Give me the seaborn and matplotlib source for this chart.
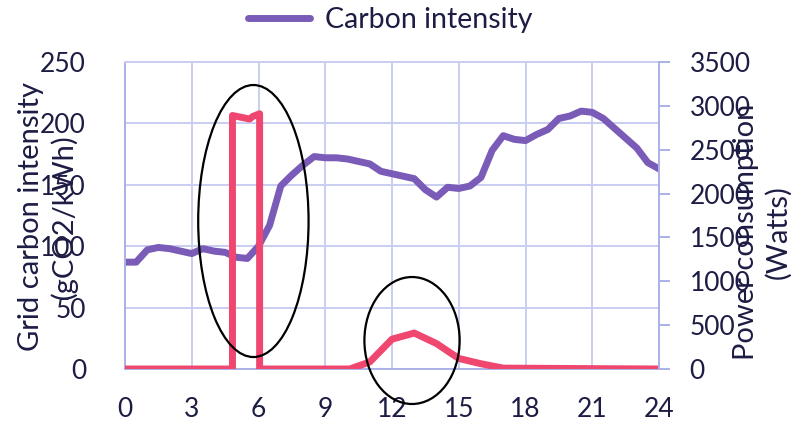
import numpy as np
import pandas as pd
import matplotlib
matplotlib.use("Agg")
import matplotlib.pyplot as plt
import seaborn as sns
from matplotlib.patches import Ellipse
from matplotlib.lines import Line2D

# ---- data ----
carbon_hours = [0, 0.5, 1, 1.5, 2, 2.5, 3, 3.5, 4, 4.5, 5, 5.5, 6, 6.5, 7, 7.5, 8, 8.5,
                9, 9.5, 10, 10.5, 11, 11.5, 12, 12.5, 13, 13.5, 14, 14.5, 15, 15.5,
                16, 16.5, 17, 17.5, 18, 18.5, 19, 19.5, 20, 20.5, 21, 21.5, 22, 22.5,
                23, 23.5, 24]
carbon_values = [87, 87, 97, 99, 98, 96, 94, 98, 96, 95, 91, 90, 100, 117, 149, 158, 166, 173,
                 172, 172, 171, 169, 167, 161, 159, 157, 155, 146, 140, 148, 147, 149,
                 156, 178, 190, 187, 186, 191, 195, 204, 206, 210, 209, 204, 196, 188,
                 180, 168, 163]

power_hours = [0, 4.83, 4.83, 5.6, 5.75, 6.05, 6.05, 10.1, 11, 12, 13, 14, 15, 16, 17, 24]
power_watts = [0, 0, 2890, 2850, 2880, 2910, 0, 0, 80, 340, 410, 290, 120, 60, 10, 0]

x_ticks = [0, 3, 6, 9, 12, 15, 18, 21, 24]
left_ticks = [0, 50, 100, 150, 200, 250]
right_ticks = [0, 500, 1000, 1500, 2000, 2500, 3000, 3500]

carbon_df = pd.DataFrame({"hour": carbon_hours, "carbon": carbon_values})
power_df = pd.DataFrame({"hour": power_hours, "watts": power_watts})

# ---- style ----
sns.set_style("white")
plt.rcParams["font.family"] = ["Lato", "DejaVu Sans"]

PURPLE = "#7a5cb8"
RED = "#ef476f"
GRID = "#c9cdf0"
SPINE = "#aab1e6"
TXT = "#1c1c44"
FS_TICK = 19
FS_LAB = 21
FS_LEG = 20.5

fig = plt.figure(figsize=(7.96, 4.23), dpi=100)
ax = fig.add_axes([125 / 796, 1 - 369 / 423, (659 - 125) / 796, (369 - 62) / 423])
ax2 = ax.twinx()

sns.lineplot(data=carbon_df, x="hour", y="carbon", ax=ax, color=PURPLE, linewidth=5,
             estimator=None, sort=False, legend=False)
sns.lineplot(data=power_df, x="hour", y="watts", ax=ax2, color=RED, linewidth=5,
             estimator=None, sort=False, legend=False)

ax.set_xlim(0, 24)
ax.set_ylim(0, 250)
ax2.set_ylim(0, 3500)
ax.set_xticks(x_ticks)
ax.set_yticks(left_ticks)
ax2.set_yticks(right_ticks)
ax.set_xticklabels([str(v) for v in x_ticks])
ax.set_yticklabels([str(v) for v in left_ticks])
ax2.set_yticklabels([str(v) for v in right_ticks])

ax.grid(True, color=GRID, linewidth=1.4)
ax.set_axisbelow(True)
ax2.grid(False)

for a in (ax, ax2):
    for s in a.spines.values():
        s.set_color(SPINE)
        s.set_linewidth(1.4)
ax2.spines["left"].set_visible(False)
ax2.spines["top"].set_visible(False)
ax2.spines["bottom"].set_visible(False)
ax.spines["top"].set_color(GRID)
ax.spines["right"].set_visible(False)

ax.tick_params(axis="x", length=0, pad=20, labelsize=FS_TICK, labelcolor=TXT)
ax.tick_params(axis="y", length=0, pad=28, labelsize=FS_TICK, labelcolor=TXT)
ax2.tick_params(axis="y", length=8, width=1.4, color=SPINE, pad=14, labelsize=FS_TICK,
                labelcolor=TXT)

ax.set_xlabel("")
ax.set_ylabel("")
ax2.set_ylabel("")

fig.text(0.060, 0.489, "Grid carbon intensity\n(gCO2/kWh)", rotation=90, ha="center",
         va="center", fontsize=FS_LAB, color=TXT, linespacing=1.25)
fig.text(0.958, 0.451, "Power consumption\n(Watts)", rotation=90, ha="center",
         va="center", fontsize=FS_LAB, color=TXT, linespacing=1.25)

# ellipses (annotations)
e1 = Ellipse((5.77, 120.5), 4.96, 221.5, fill=False, edgecolor="black", linewidth=1.6,
             transform=ax.transData, clip_on=False, zorder=5)
e2 = Ellipse((12.9, 23.2), 4.28, 103.4, fill=False, edgecolor="black", linewidth=1.6,
             transform=ax.transData, clip_on=False, zorder=5)
ax2.add_patch(e1)
ax2.add_patch(e2)

handle = Line2D([0], [0], color=PURPLE, linewidth=5)
fig.legend([handle], ["Carbon intensity"], loc="center", bbox_to_anchor=(0.49, 0.953),
           frameon=False, fontsize=FS_LEG, handlelength=2.2, handletextpad=0.5,
           labelcolor=TXT)

fig.savefig("out.png", dpi=100)
